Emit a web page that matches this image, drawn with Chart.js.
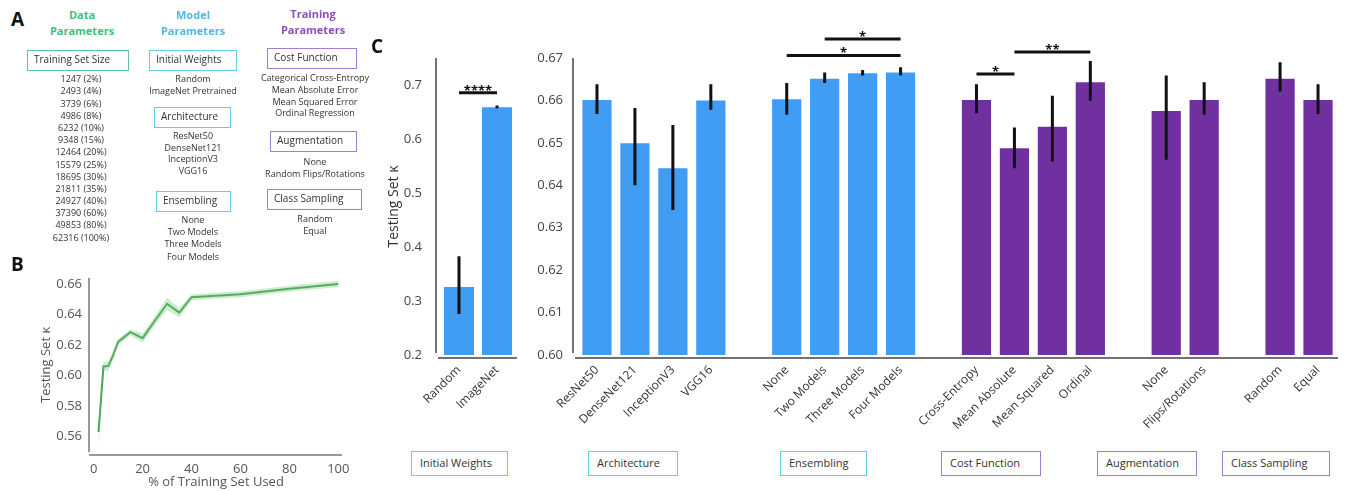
<!DOCTYPE html>
<html><head><meta charset="utf-8">
<script src="https://cdn.jsdelivr.net/npm/chart.js@4.4.1/dist/chart.umd.min.js"></script>
<style>
html,body{margin:0;padding:0;background:#fff;}
#page{position:relative;width:1346px;height:491px;overflow:hidden;font-family:'Open Sans',sans-serif;color:#333;}
.plab{position:absolute;font-weight:bold;color:#111;font-size:19px;line-height:20px;}
.hdr{position:absolute;font-weight:bold;font-size:11px;text-align:center;line-height:16px;width:140px;}
.box{position:absolute;box-sizing:border-box;border:1.5px solid;font-size:10px;line-height:17px;padding-left:6px;white-space:nowrap;color:#333;}
.cbox{position:absolute;box-sizing:border-box;border:1.5px solid;font-size:11px;line-height:22px;padding-left:8px;white-space:nowrap;color:#333;}
.item{position:absolute;font-size:9px;width:160px;text-align:center;line-height:12px;color:#333;white-space:nowrap;}
canvas{position:absolute;}
</style></head>
<body><div id="page">
<canvas id="cB" width="360" height="229" style="left:0;top:262px"></canvas>
<canvas id="cW" width="140" height="450" style="left:380px;top:0"></canvas>
<canvas id="cP" width="826" height="450" style="left:520px;top:0"></canvas>
</div>
<script>
// ---------- Panel A text ----------
const dataSizes = ['1247 (2%)','2493 (4%)','3739 (6%)','4986 (8%)','6232 (10%)','9348 (15%)','12464 (20%)','15579 (25%)','18695 (30%)','21811 (35%)','24927 (40%)','37390 (60%)','49853 (80%)','62316 (100%)'];
const initWeightItems = ['Random','ImageNet Pretrained'];
const architectureItems = ['ResNet50','DenseNet121','InceptionV3','VGG16'];
const ensemblingItems = ['None','Two Models','Three Models','Four Models'];
const costItems = ['Categorical Cross-Entropy','Mean Absolute Error','Mean Squared Error','Ordinal Regression'];
const augItems = ['None','Random Flips/Rotations'];
const samplingItems = ['Random','Equal'];

// ---------- Panel B data ----------
const trainPct = [2,4,6,8,10,15,20,25,30,35,40,60,80,100];
const kappaMean = [0.5632,0.6060,0.6062,0.6135,0.6220,0.6284,0.6245,0.6359,0.6470,0.6412,0.6513,0.6532,0.6568,0.6600];
const kappaLow  = [0.5510,0.6030,0.6032,0.6105,0.6200,0.6264,0.6215,0.6329,0.6430,0.6382,0.6493,0.6512,0.6548,0.6580];
const kappaHigh = [0.5700,0.6090,0.6092,0.6165,0.6240,0.6304,0.6275,0.6389,0.6510,0.6442,0.6533,0.6552,0.6588,0.6620];
const bYTicks = [0.56,0.58,0.60,0.62,0.64,0.66];
const bXTicks = [0,20,40,60,80,100];

// ---------- Panel C: initial weights ----------
const weightLabels = ['Random','ImageNet'];
const weightKappa = [0.326,0.659];
const weightErrLow = [0.276,0.657];
const weightErrHigh = [0.383,0.662];
const weightYTicks = [0.2,0.3,0.4,0.5,0.6,0.7];
const weightBrackets = [{from:0,to:1,y:0.6857,label:'****'}];

// ---------- Panel C: other parameters ('' = gap between groups) ----------
const paramLabels = ['ResNet50','DenseNet121','InceptionV3','VGG16','',
  'None','Two Models','Three Models','Four Models','',
  'Cross-Entropy','Mean Absolute','Mean Squared','Ordinal','',
  'None','Flips/Rotations','',
  'Random','Equal'];
const paramKappa   = [0.6601,0.6499,0.6440,0.6600,null, 0.6603,0.6651,0.6664,0.6666,null, 0.6601,0.6487,0.6538,0.6643,null, 0.6575,0.6601,null, 0.6651,0.6601];
const paramErrLow  = [0.6568,0.6400,0.6342,0.6578,null, 0.6566,0.6641,0.6659,0.6659,null, 0.6570,0.6440,0.6456,0.6599,null, 0.6460,0.6566,null, 0.6621,0.6568];
const paramErrHigh = [0.6638,0.6582,0.6542,0.6638,null, 0.6641,0.6666,0.6672,0.6678,null, 0.6638,0.6536,0.6611,0.6693,null, 0.6659,0.6643,null, 0.6690,0.6638];
const paramGroup   = ['m','m','m','m','', 'm','m','m','m','', 't','t','t','t','', 't','t','', 't','t'];
const paramYTicks = [0.60,0.61,0.62,0.63,0.64,0.65,0.66,0.67];
const paramBrackets = [
  {from:6,to:8,y:0.6745,label:'*'},
  {from:5,to:8,y:0.6706,label:'*'},
  {from:10,to:11,y:0.6662,label:'*'},
  {from:11,to:13,y:0.6714,label:'**'}
];

const GREEN='#3fbf7f', CYAN='#4fb8e6', PURPLE='#8a4fc0';
const BOX_G='#5cc595', BOX_C='#68c9ea', BOX_P='#a47fd1';
const BLUE_BAR='#419CF3', PURPLE_BAR='#7030A0';

const page = document.getElementById('page');
function el(cls, html, style){ const d=document.createElement('div'); d.className=cls; d.innerHTML=html; Object.assign(d.style, style); page.appendChild(d); return d; }
function list(items, cx, y0, step){ items.forEach((t,i)=>el('item', t, {left:(cx-80)+'px', top:(y0+i*step-6)+'px'})); }
function box(text, x, y, w, h, color, cls){ el(cls||'box', text, {left:x+'px', top:y+'px', width:w+'px', height:h+'px', borderColor:color}); }

el('plab','A',{left:'11px',top:'9px'});
el('plab','B',{left:'11px',top:'254px'});
el('plab','C',{left:'371px',top:'36px'});

el('hdr','Data<br>Parameters',{left:(82-70)+'px',top:'7px',color:GREEN});
el('hdr','Model<br>Parameters',{left:(193-70)+'px',top:'7px',color:CYAN});
el('hdr','Training<br>Parameters',{left:(313-70)+'px',top:'6px',color:PURPLE});

box('Training Set Size',27,50,102,21,BOX_G);
list(dataSizes,81,79.3,12.18);

box('Initial Weights',149,50,88,21,BOX_C);
list(initWeightItems,193,79,11.5);
box('Architecture',154,107,77,21,BOX_C);
list(architectureItems,193,136,11.5);
box('Ensembling',156,191,75,21,BOX_C);
list(ensemblingItems,193,220,12.2);

box('Cost Function',267,48,90,21,BOX_P);
list(costItems,315,78,11.8);
box('Augmentation',270,131,87,21,BOX_P);
list(augItems,315,162,11.5);
box('Class Sampling',267,189,95,21,BOX_P);
list(samplingItems,315,219,12);

// bottom group boxes of panel C
box('Initial Weights',411,451,97,25,BOX_C,'cbox');
box('Architecture',588,451,90,25,BOX_C,'cbox');
box('Ensembling',780,451,87,25,BOX_C,'cbox');
box('Cost Function',941,451,100,25,BOX_P,'cbox');
box('Augmentation',1097,451,100,25,BOX_P,'cbox');
box('Class Sampling',1222,451,108,25,BOX_P,'cbox');

// ---------- Chart.js ----------
Chart.defaults.font.family = "'Open Sans', sans-serif";
Chart.defaults.animation = false;

function spinePlugin(o){
  return {id:'spines', afterDraw(chart){
    const {ctx, chartArea:a} = chart;
    ctx.save(); ctx.strokeStyle=o.color; ctx.lineWidth=o.width; ctx.beginPath();
    const lx = a.left - o.dx;
    ctx.moveTo(lx, a.top); ctx.lineTo(lx, a.bottom - o.gap);
    const by = a.bottom + o.dy;
    ctx.moveTo(lx + o.gap, by); ctx.lineTo(a.right + o.ext, by);
    ctx.stroke(); ctx.restore();
  }};
}
function errorBarPlugin(low, high){
  return {id:'errbars', afterDatasetsDraw(chart){
    const ctx=chart.ctx, meta=chart.getDatasetMeta(0), y=chart.scales.y;
    ctx.save(); ctx.strokeStyle='#111'; ctx.lineWidth=3; ctx.lineCap='butt'; ctx.beginPath();
    meta.data.forEach((bar,i)=>{
      if(low[i]==null) return;
      ctx.moveTo(bar.x, y.getPixelForValue(low[i]));
      ctx.lineTo(bar.x, y.getPixelForValue(high[i]));
    });
    ctx.stroke(); ctx.restore();
  }};
}
function bracketPlugin(list){
  return {id:'brackets', afterDatasetsDraw(chart){
    const ctx=chart.ctx, meta=chart.getDatasetMeta(0), y=chart.scales.y;
    ctx.save(); ctx.strokeStyle='#111'; ctx.fillStyle='#111'; ctx.lineWidth=3;
    ctx.font="bold 13px 'Open Sans', sans-serif"; ctx.textAlign='center'; ctx.textBaseline='alphabetic';
    list.forEach(b=>{
      const x1=meta.data[b.from].x, x2=meta.data[b.to].x, py=y.getPixelForValue(b.y);
      ctx.beginPath(); ctx.moveTo(x1,py); ctx.lineTo(x2,py); ctx.stroke();
      ctx.fillText(b.label,(x1+x2)/2,py+2);
    });
    ctx.restore();
  }};
}

// Panel B
new Chart(document.getElementById('cB'), {
  type:'line',
  data:{ labels: trainPct, datasets:[
    {data: trainPct.map((x,i)=>({x, y:kappaHigh[i]})), borderWidth:0, pointRadius:0, fill:false},
    {data: trainPct.map((x,i)=>({x, y:kappaLow[i]})), borderWidth:0, pointRadius:0, fill:'-1', backgroundColor:'rgba(125,205,125,0.38)'},
    {data: trainPct.map((x,i)=>({x, y:kappaMean[i]})), borderColor:'#3d9a52', borderWidth:2, pointRadius:0, fill:false}
  ]},
  options:{
    responsive:false, devicePixelRatio:1,
    layout:{padding:{top:13,right:18,left:0,bottom:0}},
    plugins:{legend:{display:false}, tooltip:{enabled:false}},
    scales:{
      x:{type:'linear', min:-1.5, max:101.5,
         afterBuildTicks:s=>{s.ticks=bXTicks.map(v=>({value:v}));},
         grid:{display:false, drawTicks:false}, border:{display:false},
         ticks:{color:'#555', font:{size:13}, padding:9, maxRotation:0},
         title:{display:true, text:'% of Training Set Used', color:'#555', font:{size:13}, padding:{top:0,bottom:1}},
         afterFit:s=>{s.height=39;}},
      y:{min:0.55, max:0.664,
         afterBuildTicks:s=>{s.ticks=bYTicks.map(v=>({value:v}));},
         grid:{display:false, drawTicks:false}, border:{display:false},
         ticks:{color:'#555', font:{size:13}, padding:8, callback:v=>v.toFixed(2)},
         title:{display:true, text:'Testing Set κ', color:'#555', font:{size:13}, padding:{top:38,bottom:0}},
         afterFit:s=>{s.width=90;}}
    }
  },
  plugins:[spinePlugin({color:'#999', width:2, dx:1, dy:3, gap:0, ext:0})]
});

const xTickOpts = {color:'#333', font:{size:12}, minRotation:45, maxRotation:45, autoSkip:false, padding:8};

// Panel C - initial weights
new Chart(document.getElementById('cW'), {
  type:'bar',
  data:{labels: weightLabels, datasets:[{data: weightKappa, backgroundColor: BLUE_BAR, categoryPercentage:0.79, barPercentage:1}]},
  options:{
    responsive:false, devicePixelRatio:1,
    layout:{padding:{top:58,right:4,left:0,bottom:0}},
    plugins:{legend:{display:false}, tooltip:{enabled:false}},
    scales:{
      x:{grid:{display:false, drawTicks:false}, border:{display:false}, ticks:xTickOpts, afterFit:s=>{s.height=95;}},
      y:{min:0.2, max:0.75,
         afterBuildTicks:s=>{s.ticks=weightYTicks.map(v=>({value:v}));},
         grid:{display:false, drawTicks:false}, border:{display:false},
         ticks:{color:'#444', font:{size:13}, padding:18, callback:v=>v.toFixed(1)},
         title:{display:true, text:'Testing Set κ', color:'#333', font:{size:14}, padding:{top:6,bottom:0}},
         afterFit:s=>{s.width=60;}}
    }
  },
  plugins:[spinePlugin({color:'#444', width:1.5, dx:4, dy:3, gap:2, ext:1}), errorBarPlugin(weightErrLow, weightErrHigh), bracketPlugin(weightBrackets)]
});

// Panel C - other parameters
new Chart(document.getElementById('cP'), {
  type:'bar',
  data:{labels: paramLabels, datasets:[{data: paramKappa,
    backgroundColor: paramGroup.map(g=> g==='t' ? PURPLE_BAR : BLUE_BAR),
    categoryPercentage:0.77, barPercentage:1}]},
  options:{
    responsive:false, devicePixelRatio:1,
    layout:{padding:{top:58,right:9,left:0,bottom:0}},
    plugins:{legend:{display:false}, tooltip:{enabled:false}},
    scales:{
      x:{grid:{display:false, drawTicks:false}, border:{display:false}, ticks:xTickOpts, afterFit:s=>{s.height=95;}},
      y:{min:0.60, max:0.67,
         afterBuildTicks:s=>{s.ticks=paramYTicks.map(v=>({value:v}));},
         grid:{display:false, drawTicks:false}, border:{display:false},
         ticks:{color:'#444', font:{size:13}, padding:15, callback:v=>v.toFixed(2)},
         afterFit:s=>{s.width=58;}}
    }
  },
  plugins:[spinePlugin({color:'#444', width:1.5, dx:5, dy:3, gap:2, ext:1}), errorBarPlugin(paramErrLow, paramErrHigh), bracketPlugin(paramBrackets)]
});
</script>
</body></html>
